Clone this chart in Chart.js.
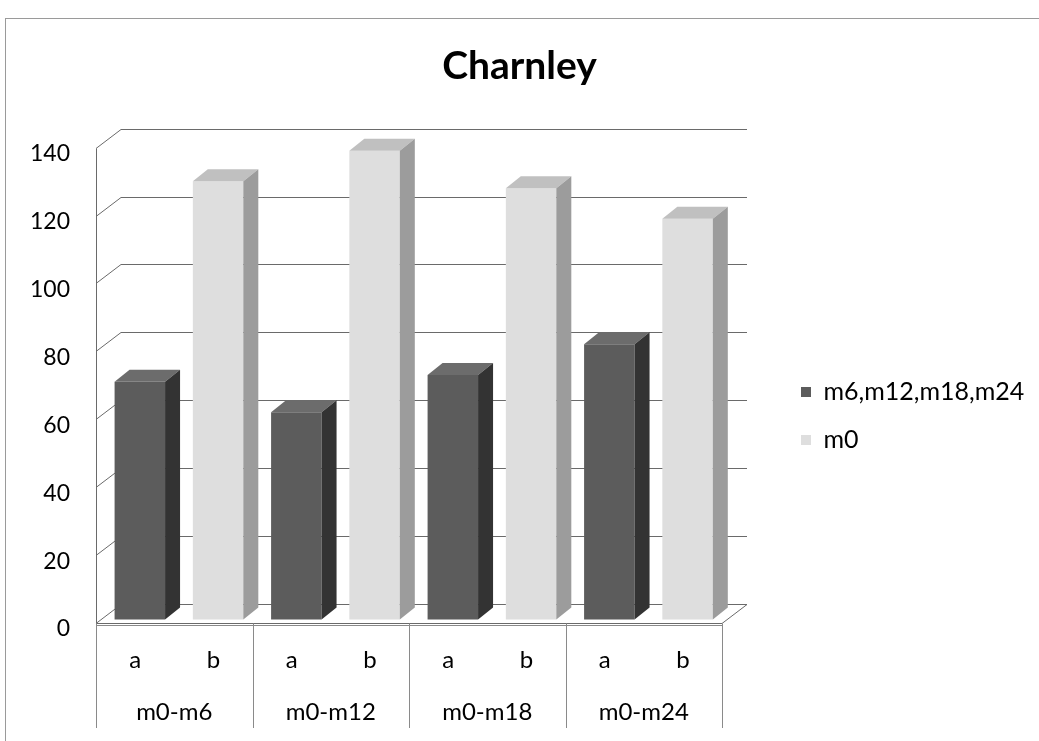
<!DOCTYPE html>
<html>
<head>
<meta charset="utf-8">
<script src="https://cdn.jsdelivr.net/npm/chart.js@4.4.1/dist/chart.umd.min.js"></script>
<style>
  html, body { margin: 0; padding: 0; background: #fff; }
  #wrap { position: relative; width: 1039px; height: 741px; }
  #frame { position: absolute; left: 5px; top: 18px; right: -5px; bottom: -5px;
           border-left: 1px solid #9a9a9a; border-top: 1px solid #9a9a9a; pointer-events: none; }
</style>
</head>
<body>
<div id="wrap">
  <canvas id="c" width="1039" height="741"></canvas>
  <div id="frame"></div>
</div>
<script>
// ---- data ----
const categories = ['a', 'b', 'a', 'b', 'a', 'b', 'a', 'b'];
const groups = ['m0-m6', 'm0-m12', 'm0-m18', 'm0-m24'];
const seriesNames = ['m6,m12,m18,m24', 'm0'];
const valuesA = [70, 61, 72, 81];      // dark bars (a)
const valuesB = [129, 138, 127, 118];  // light bars (b)
const yMin = 0, yMax = 140, yStep = 20;

// ---- styles ----
const FONT = 'Lato, "Noto Sans", sans-serif';
const frontColors = ['#5c5c5c', '#dedede'];
const topColors = ['#6c6c6c', '#c0c0c0'];
const sideColors = ['#333333', '#9c9c9c'];
const WALL = { dx: 25, dy: -19 };     // floor depth
const BAR_SHIFT = { dx: 4.7, dy: -3.6 };
const BAR_DEPTH = { dx: 15, dy: -12 };

const dataA = categories.map((c, i) => (i % 2 === 0 ? valuesA[i / 2] : null));
const dataB = categories.map((c, i) => (i % 2 === 1 ? valuesB[(i - 1) / 2] : null));

const threeD = {
  id: 'threeD',
  beforeDatasetsDraw(chart) {
    const ctx = chart.ctx;
    const ys = chart.scales.y, x2 = chart.scales.x2;
    const L = chart.chartArea.left, R = chart.chartArea.right, B = chart.chartArea.bottom;
    ctx.save();
    ctx.strokeStyle = '#6a6a6a';
    ctx.lineWidth = 1;
    ctx.beginPath();
    ys.ticks.forEach(t => {
      const y = Math.round(ys.getPixelForValue(t.value)) + 0.5;
      ctx.moveTo(L, y);
      ctx.lineTo(L + WALL.dx, y + WALL.dy);
      ctx.lineTo(R + WALL.dx, y + WALL.dy);
    });
    const yTop = Math.round(ys.getPixelForValue(yMax)) + 0.5;
    ctx.moveTo(Math.round(L) + 0.5, yTop);
    ctx.lineTo(Math.round(L) + 0.5, B);
    const yb = Math.round(B) + 0.5;
    ctx.moveTo(L, yb);
    ctx.lineTo(R, yb);
    ctx.lineTo(R + WALL.dx, yb + WALL.dy);
    ctx.stroke();
    // table lines (x axis)
    ctx.strokeStyle = '#8a8a8a';
    ctx.beginPath();
    const yt = yb + 2;
    ctx.moveTo(L, yt);
    ctx.lineTo(R, yt);
    const band = (x2.right - x2.left) / groups.length;
    for (let g = 0; g <= groups.length; g++) {
      const x = Math.round(x2.left + g * band) + 0.5;
      ctx.moveTo(x, yb);
      ctx.lineTo(x, x2.bottom - 13);
    }
    ctx.stroke();
    ctx.restore();
    ctx.save();
    ctx.translate(BAR_SHIFT.dx, BAR_SHIFT.dy);
  },
  afterDatasetsDraw(chart) {
    const ctx = chart.ctx;
    chart.data.datasets.forEach((ds, di) => {
      const meta = chart.getDatasetMeta(di);
      meta.data.forEach((el, i) => {
        if (ds.data[i] == null) return;
        const p = el.getProps(['x', 'y', 'base', 'width'], true);
        const l = p.x - p.width / 2, r = p.x + p.width / 2;
        ctx.fillStyle = topColors[di];
        ctx.beginPath();
        ctx.moveTo(l, p.y);
        ctx.lineTo(l + BAR_DEPTH.dx, p.y + BAR_DEPTH.dy);
        ctx.lineTo(r + BAR_DEPTH.dx, p.y + BAR_DEPTH.dy);
        ctx.lineTo(r, p.y);
        ctx.closePath();
        ctx.fill();
        ctx.fillStyle = sideColors[di];
        ctx.beginPath();
        ctx.moveTo(r, p.y);
        ctx.lineTo(r + BAR_DEPTH.dx, p.y + BAR_DEPTH.dy);
        ctx.lineTo(r + BAR_DEPTH.dx, p.base + BAR_DEPTH.dy);
        ctx.lineTo(r, p.base);
        ctx.closePath();
        ctx.fill();
      });
    });
    ctx.restore();
  }
};

new Chart(document.getElementById('c'), {
  type: 'bar',
  data: {
    labels: categories,
    datasets: [
      { label: seriesNames[0], data: dataA, backgroundColor: frontColors[0], xAxisID: 'x', yAxisID: 'y', grouped: false, clip: false },
      { label: seriesNames[1], data: dataB, backgroundColor: frontColors[1], xAxisID: 'x', yAxisID: 'y', grouped: false, clip: false }
    ]
  },
  options: {
    responsive: false,
    animation: false,
    events: [],
    datasets: { bar: { barPercentage: 0.645, categoryPercentage: 1 } },
    layout: { padding: { left: 11, top: 0, right: 11, bottom: 0 } },
    scales: {
      x: {
        type: 'category', position: 'bottom', offset: true,
        grid: { display: false, drawTicks: false }, border: { display: false },
        ticks: { color: '#000', font: { family: FONT, size: 24 }, padding: 23, maxRotation: 0, autoSkip: false },
        afterFit: s => { s.height = 60; }
      },
      x2: {
        type: 'category', position: 'bottom', offset: true, labels: groups,
        grid: { display: false, drawTicks: false }, border: { display: false },
        ticks: { color: '#000', font: { family: FONT, size: 24 }, padding: 15, maxRotation: 0, autoSkip: false },
        afterFit: s => { s.height = 58; }
      },
      y: {
        type: 'linear', position: 'left', min: yMin, max: yMax,
        grid: { display: false, drawTicks: false }, border: { display: false },
        ticks: { stepSize: yStep, color: '#000', font: { family: FONT, size: 23 }, padding: 26, labelOffset: 6 },
        afterFit: s => { s.width = 85; }
      },
      yR: {
        type: 'linear', axis: 'y', position: 'right', display: true,
        grid: { display: false, drawTicks: false }, border: { display: false },
        ticks: { display: false },
        afterFit: s => { s.width = 56; }
      }
    },
    plugins: {
      title: {
        display: true, text: 'Charnley', color: '#000',
        font: { family: FONT, size: 39, weight: 'bold' },
        padding: { top: 43, bottom: 57.8 }
      },
      legend: {
        display: true, position: 'right', align: 'center', fullSize: false, maxWidth: 250,
        title: { display: true, text: ' ', font: { size: 12 }, padding: { top: 47, bottom: 0 } },
        labels: { color: '#000', font: { family: FONT, size: 25 }, boxWidth: 10, boxHeight: 10, padding: 23 }
      },
      tooltip: { enabled: false }
    }
  },
  plugins: [threeD]
});
</script>
</body>
</html>
